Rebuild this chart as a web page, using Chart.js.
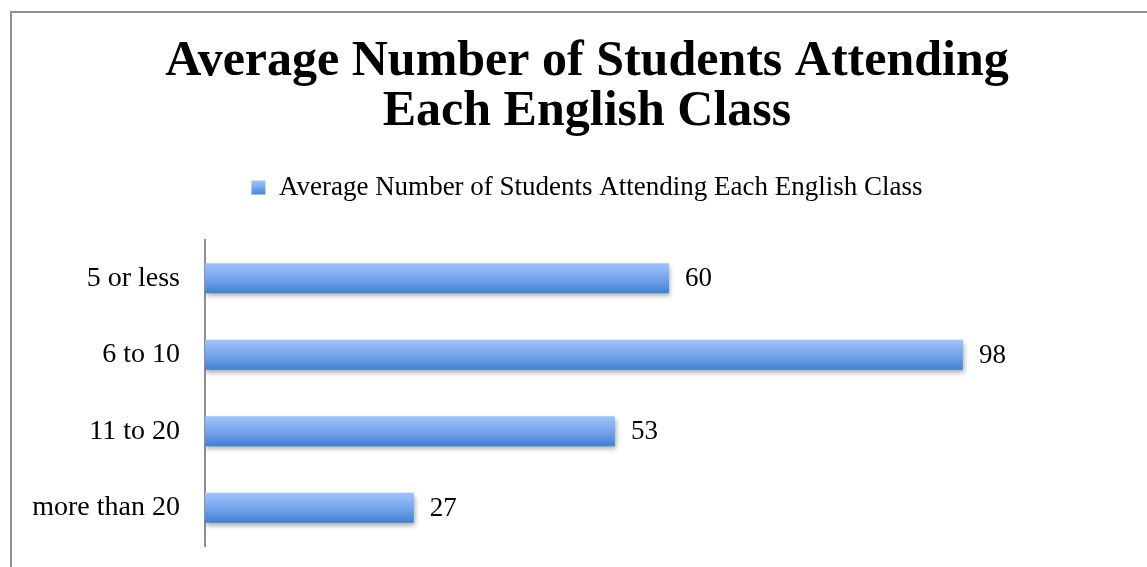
<!DOCTYPE html>
<html>
<head>
<meta charset="utf-8">
<script src="https://cdn.jsdelivr.net/npm/chart.js@4/dist/chart.umd.min.js"></script>
<style>
  html, body { margin: 0; padding: 0; overflow: hidden; background: #fff; }
  #frame { position: absolute; left: 10px; top: 11px; width: 1300px; height: 700px; border: 2px solid #8e8e8e; }
  #wrap { position: absolute; left: 0; top: 0; width: 1147px; height: 567px; overflow: hidden; }
</style>
</head>
<body>
<div id="frame"></div>
<div id="wrap"><canvas id="barChart" width="1180" height="567"></canvas></div>
<script>
const titleLines = ["Average Number of Students Attending", "Each English Class"];
const seriesName = "Average Number of Students Attending Each English Class";
const categories = ["5 or less", "6 to 10", "11 to 20", "more than 20"];
const students = [60, 98, 53, 27];

const serif = "'Liberation Serif', 'DejaVu Serif', serif";
const barPct = 0.39;

function blueStops(g) {
  g.addColorStop(0, "#9dc3fd");
  g.addColorStop(0.5, "#77a5ec");
  g.addColorStop(1, "#4080d2");
  return g;
}

// vertical gradient per bar, light on top, darker at the bottom
function barGradient(c) {
  const chart = c.chart;
  const { ctx, chartArea, scales } = chart;
  if (!chartArea || c.dataIndex === undefined) return "#6b9be6";
  const y = scales.y.getPixelForValue(c.dataIndex);
  const half = (scales.y.height / categories.length) * barPct / 2;
  return blueStops(ctx.createLinearGradient(0, y - half, 0, y + half));
}

const barShadow = {
  id: "barShadow",
  beforeDatasetDraw(chart) {
    const ctx = chart.ctx;
    ctx.save();
    ctx.shadowColor = "rgba(0,0,0,0.35)";
    ctx.shadowBlur = 5;
    ctx.shadowOffsetX = 1;
    ctx.shadowOffsetY = 3;
  },
  afterDatasetDraw(chart) {
    chart.ctx.restore();
  },
};

// extra room between the legend and the plot
const legendGap = {
  id: "legendGap",
  afterInit(chart) {
    const lg = chart.legend;
    const fit = lg.fit;
    lg.fit = function () {
      fit.call(this);
      this.height += 29;
    };
  },
};

const valueLabels = {
  id: "valueLabels",
  afterDatasetsDraw(chart) {
    const ctx = chart.ctx;
    const meta = chart.getDatasetMeta(0);
    ctx.save();
    ctx.font = "27px " + serif;
    ctx.fillStyle = "#000";
    ctx.textAlign = "left";
    ctx.textBaseline = "middle";
    meta.data.forEach((bar, i) => {
      ctx.fillText(String(students[i]), bar.x + 16, bar.y + 1);
    });
    ctx.restore();
  },
};

new Chart(document.getElementById("barChart"), {
  type: "bar",
  data: {
    labels: categories,
    datasets: [
      {
        label: seriesName,
        data: students,
        backgroundColor: barGradient,
        borderWidth: 0,
        barPercentage: barPct,
        categoryPercentage: 1,
      },
    ],
  },
  options: {
    indexAxis: "y",
    responsive: false,
    animation: false,
    layout: { padding: { left: 10, right: 16, top: 37, bottom: 21 } },
    scales: {
      x: { display: false, min: 0, max: 124 },
      y: {
        grid: { display: false },
        border: { display: true, color: "#8e8e8e", width: 2 },
        ticks: { color: "#000", font: { family: serif, size: 28 }, padding: 17 },
        afterFit(scale) {
          scale.width = 195;
          scale.paddingTop = 0;
          scale.paddingBottom = 0;
        },
      },
    },
    plugins: {
      title: {
        display: true,
        text: titleLines,
        color: "#000",
        font: { family: serif, size: 50, weight: "bold", lineHeight: 1.0 },
        padding: { top: 0, bottom: 27 },
      },
      legend: {
        labels: {
          color: "#000",
          font: { family: serif, size: 27 },
          boxWidth: 14,
          boxHeight: 14,
          padding: 10,
          generateLabels(chart) {
            const g = blueStops(chart.ctx.createLinearGradient(0, 181, 0, 195));
            return [{ text: seriesName, fillStyle: g, strokeStyle: "#6b9be6", lineWidth: 0 }];
          },
        },
      },
      tooltip: { enabled: false },
    },
  },
  plugins: [barShadow, legendGap, valueLabels],
});
</script>
</body>
</html>
